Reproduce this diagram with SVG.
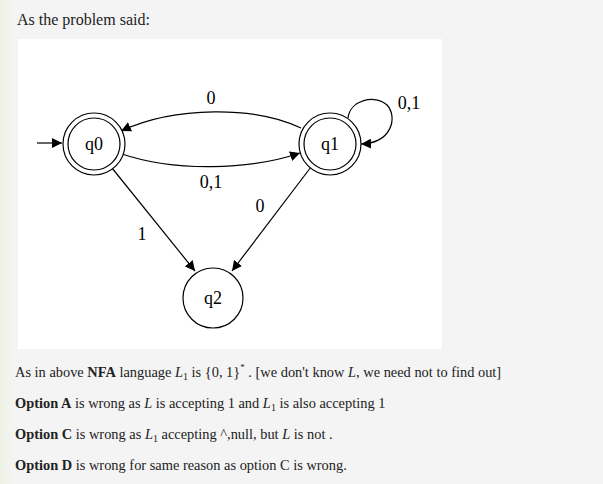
<svg xmlns="http://www.w3.org/2000/svg" width="603" height="484" viewBox="0 0 603 484">
<defs>
<linearGradient id="lg" x1="0" y1="0" x2="1" y2="0">
<stop offset="0" stop-color="#eef3e6"/>
<stop offset="1" stop-color="#f4f4f4"/>
</linearGradient>
<marker id="ah" viewBox="0 0 10 10" refX="10" refY="5" markerWidth="10" markerHeight="10" markerUnits="userSpaceOnUse" orient="auto">
<path d="M0,0 L10,5 L0,10 z" fill="#000"/>
</marker>
<style>
.st{fill:#fff;stroke:#000;stroke-width:1.2}
.nl{font-family:"Liberation Serif","Times New Roman",serif;font-size:18px;text-anchor:middle;fill:#000}
.el{font-family:"Liberation Serif","Times New Roman",serif;font-size:18px;text-anchor:middle;fill:#000}
.ed{fill:none;stroke:#000;stroke-width:1.2;marker-end:url(#ah)}
.tx{font-family:"Liberation Serif","Times New Roman",serif;font-size:16px;fill:#222}
.bt{font-family:"Liberation Serif","Times New Roman",serif;font-size:14.4px;fill:#222}
.b{font-weight:bold}
.m{font-style:italic}
</style>
</defs>
<rect width="603" height="484" fill="#f4f4f4"/>
<rect width="14" height="484" fill="url(#lg)"/>
<rect x="18" y="39" width="424" height="310" fill="#fff"/>
<text class="tx" x="17" y="25">As the problem said:</text>
<g id="connectors">
<path class="ed" d="M37,143 L62,143"/>
<path class="ed" d="M301,128 C255,106 175,106 121,131"/>
<path class="ed" d="M122,154 C175,172 250,170 300,153"/>
<path class="ed" d="M348,118 C350,100 375,94 387,105 C398,117 392,143 361,144"/>
<path class="ed" d="M112,168 L195,271"/>
<path class="ed" d="M311,167 L232,271"/>
<text class="el" x="211" y="104">0</text>
<text class="el" x="211" y="188">0,1</text>
<text class="el" x="409" y="109">0,1</text>
<text class="el" x="142" y="240">1</text>
<text class="el" x="260" y="212">0</text>
</g>
<g id="q0">
<circle class="st" cx="94" cy="144" r="31"/>
<circle class="st" cx="94" cy="144" r="26" fill="none"/>
<text class="nl" x="94" y="150">q0</text>
</g>
<g id="q1">
<circle class="st" cx="330" cy="144" r="31"/>
<circle class="st" cx="330" cy="144" r="26" fill="none"/>
<text class="nl" x="330" y="150">q1</text>
</g>
<g id="q2">
<circle class="st" cx="213" cy="298" r="30"/>
<text class="nl" x="213" y="304">q2</text>
</g>
<text class="bt" x="15" y="377">As in above <tspan class="b">NFA</tspan> language <tspan class="m">L</tspan><tspan font-size="10" dy="3">1</tspan><tspan dy="-3"> is {0, 1}</tspan><tspan font-size="9" dy="-7">*</tspan><tspan dy="7"> . [we don't know </tspan><tspan class="m">L</tspan>, we need not to find out]</text>
<text class="bt" x="15" y="408"><tspan class="b">Option A</tspan> is wrong as <tspan class="m">L</tspan> is accepting 1 and <tspan class="m">L</tspan><tspan font-size="10" dy="3">1</tspan><tspan dy="-3"> is also accepting 1</tspan></text>
<text class="bt" x="15" y="439"><tspan class="b">Option C</tspan> is wrong as <tspan class="m">L</tspan><tspan font-size="10" dy="3">1</tspan><tspan dy="-3"> accepting ^,null, but </tspan><tspan class="m">L</tspan> is not .</text>
<text class="bt" x="15" y="470"><tspan class="b">Option D</tspan> is wrong for same reason as option C is wrong.</text>
</svg>
